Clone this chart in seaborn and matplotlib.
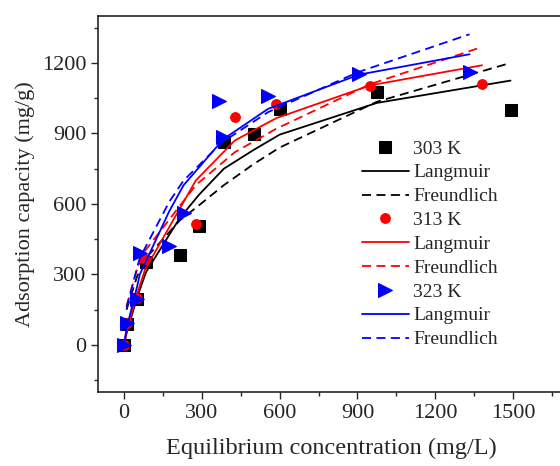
import matplotlib
matplotlib.use("Agg")
import matplotlib.pyplot as plt
from matplotlib.ticker import MultipleLocator
import seaborn as sns
import numpy as np

x_303 = [0, 10, 50, 85, 215, 290, 385, 500, 600, 975, 1490]
q_303 = [0, 90, 195, 355, 385, 505, 865, 898, 1005, 1078, 1000]
lang_303 = [0, 50, 200, 310, 540, 640, 750, 830, 895, 1030, 1125]
freu_303 = [np.nan, 150, 290, 370, 530, 595, 680, 770, 840, 1035, 1200]

x_313 = [0, 10, 50, 81, 277, 427, 587, 950, 1380]
q_313 = [0, 92, 198, 365, 516, 968, 1025, 1102, 1110]
lang_313 = [0, 55, 215, 320, 700, 870, 965, 1105, 1190]
freu_313 = [np.nan, 165, 320, 400, 680, 820, 920, 1110, 1268]

x_323 = [0, 10, 51, 61, 175, 230, 367, 382, 556, 905, 1332]
q_323 = [0, 95, 195, 393, 421, 563, 1036, 884, 1058, 1155, 1160]
lang_323 = [0, 70, 250, 300, 570, 680, 855, 875, 1005, 1150, 1237]
freu_323 = [np.nan, 160, 330, 370, 610, 700, 850, 865, 991, 1162, 1322]

sns.set_style("ticks")
plt.rcParams["font.family"] = ["Liberation Serif", "DejaVu Serif"]

fig = plt.figure(figsize=(5.6, 4.66), dpi=100)
ax = fig.add_axes([0.175, 0.1588, 0.834, 0.807])

dash = (0, (5, 3))
groups = [
    ("303 K", x_303, q_303, lang_303, freu_303, "black", "s", 8),
    ("313 K", x_313, q_313, lang_313, freu_313, "red", "o", 7),
    ("323 K", x_323, q_323, lang_323, freu_323, "blue", ">", 10),
]
for name, xs, qs, ls, fs, col, mk, ms in groups:
    sns.lineplot(x=xs, y=qs, ax=ax, color=col, marker=mk, linestyle="",
                 markersize=ms, markeredgecolor=col, label=name)
    sns.lineplot(x=xs, y=ls, ax=ax, color=col, lw=1.3, label="Langmuir")
    sns.lineplot(x=xs[1:], y=fs[1:], ax=ax, color=col, lw=1.3,
                 linestyle=dash, label="Freundlich")

ax.set_xlim(-100, 1700)
ax.set_ylim(-200, 1400)
ax.xaxis.set_major_locator(MultipleLocator(300))
ax.xaxis.set_minor_locator(MultipleLocator(150))
ax.yaxis.set_major_locator(MultipleLocator(300))
ax.yaxis.set_minor_locator(MultipleLocator(150))
ax.tick_params(which="major", length=5, width=1, labelsize=16, direction="out")
ax.tick_params(which="minor", length=3, width=1, direction="out")
for s in ax.spines.values():
    s.set_linewidth(1.2)
    s.set_visible(True)

ax.set_xlabel("Equilibrium concentration (mg/L)", fontsize=17.5, labelpad=11)
ax.set_ylabel("Adsorption capacity (mg/g)", fontsize=16, labelpad=5)

ax.legend(loc="upper left", bbox_to_anchor=(0.565, 0.67), frameon=False,
          fontsize=14, handlelength=2.4, labelspacing=0.32, borderpad=0,
          borderaxespad=0, handletextpad=0.25)

fig.savefig("out.png", dpi=100)
